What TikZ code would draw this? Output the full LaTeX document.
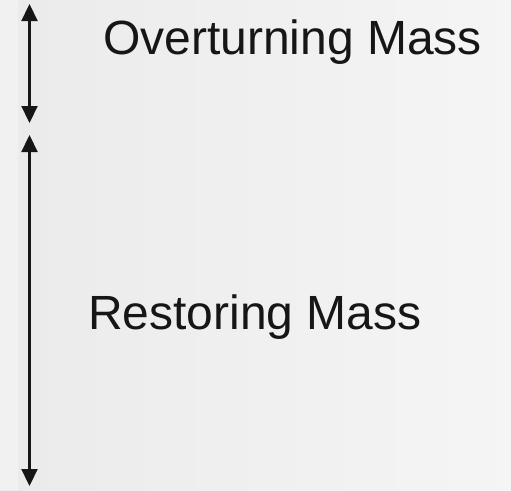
\documentclass[tikz,border=0pt]{standalone}
\usepackage{fontspec}
\setmainfont{Liberation Sans}
\usetikzlibrary{arrows.meta}
\definecolor{ink}{HTML}{161616}
\begin{document}
\begin{tikzpicture}[x=1pt,y=-1pt,
  dblarrow/.style={draw=ink,line width=2.2pt,{Triangle[width=16pt,length=17pt]}-{Triangle[width=16pt,length=17pt]}},
  label/.style={anchor=base west,inner sep=0pt,text=ink,font=\fontsize{48}{56}\selectfont}]
\useasboundingbox (0,0) rectangle (511,490);
\shade[left color=black!8,right color=black!4] (0,0) rectangle (511,490);
\fill[white,opacity=0.35] (0,0) rectangle (18,490);
\coordinate (a1) at (29.5,4);
\coordinate (a2) at (29.5,123);
\coordinate (b1) at (29.5,135);
\coordinate (b2) at (29.5,486);
\draw[dblarrow] (a1) -- (a2);
\draw[dblarrow] (b1) -- (b2);
\node[label] (over) at (103,54) {Overturning Mass};
\node[label] (rest) at (88,329) {Restoring Mass};
\end{tikzpicture}
\end{document}
